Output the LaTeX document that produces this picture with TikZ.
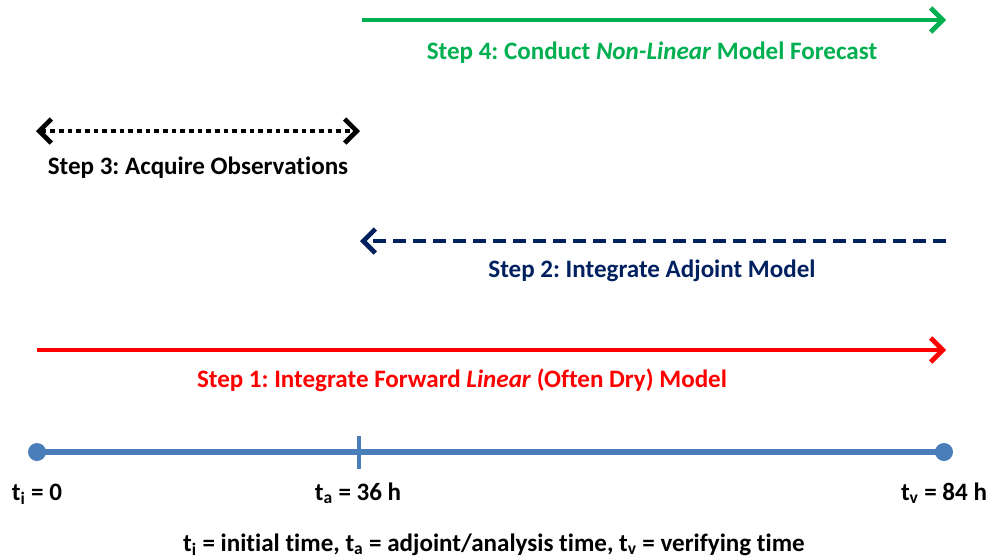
\documentclass[tikz,border=0pt]{standalone}
\usepackage{fontspec}
\setmainfont{Carlito}[Ligatures={NoCommon}]
\usetikzlibrary{arrows.meta}
\definecolor{stepgreen}{RGB}{0,176,80}
\definecolor{stepnavy}{RGB}{0,32,96}
\definecolor{stepred}{RGB}{255,0,0}
\definecolor{axisblue}{RGB}{74,126,187}
\frenchspacing
\begin{document}
\begin{tikzpicture}[x=0.75pt,y=-0.75pt,
  lbl/.style={font=\fontsize{18.8}{22}\selectfont\bfseries, inner sep=0pt, anchor=base},
  chev/.style={-{Straight Barb[length=9pt,width=18pt,line width=3.5pt]}},
  arr/.style={line width=3.5pt}]
\useasboundingbox (0,0) rectangle (989,558);
% coordinates
\coordinate (g1) at (362,20);  \coordinate (g2) at (946,20);
\coordinate (k1) at (36,131);  \coordinate (k2) at (360,131);
\coordinate (n1) at (360,241); \coordinate (n2) at (946,241);
\coordinate (r1) at (37,350);  \coordinate (r2) at (946,350);
% Step 4
\draw[arr,stepgreen,chev] (g1) -- (g2);
\node[lbl,text=stepgreen] (s4) at (652,59) {Step 4: Conduct \textit{Non-Linear} Model Forecast};
% Step 3
\draw[line width=3.5pt,black,dash pattern=on 3.5pt off 3pt,
  {Straight Barb[length=9pt,width=18pt,line width=3.5pt]}-{Straight Barb[length=9pt,width=18pt,line width=3.5pt]}] (k1) -- (k2);
\node[lbl] (s3) at (198,174) {Step 3: Acquire Observations};
% Step 2
\draw[arr,stepnavy,dash pattern=on 10pt off 5pt,chev] (n2) -- (n1);
\node[lbl,text=stepnavy] (s2) at (652,277) {Step 2: Integrate Adjoint Model};
% Step 1
\draw[arr,stepred,chev] (r1) -- (r2);
\node[lbl,text=stepred] (s1) at (462,387) {Step 1: Integrate Forward \textit{Linear} (Often Dry) Model};
% axis
\coordinate (ai) at (37,452); \coordinate (av) at (944,452);
\coordinate (at) at (359,436); \coordinate (ab) at (359,469);
\draw[axisblue,line width=4.5pt] (ai) -- (av);
\draw[axisblue,line width=3.5pt] (at) -- (ab);
\fill[axisblue] (ai) circle (9);
\fill[axisblue] (av) circle (9);
\node[lbl] (ti) at (37,500) {t\textsubscript{i} = 0};
\node[lbl] (ta) at (358,500) {t\textsubscript{a} = 36 h};
\node[lbl] (tv) at (944,500) {t\textsubscript{v} = 84 h};
\node[lbl] (leg) at (494,551) {t\textsubscript{i} = initial time, t\textsubscript{a} = adjoint/analysis time, t\textsubscript{v} = verifying time};
\end{tikzpicture}
\end{document}
